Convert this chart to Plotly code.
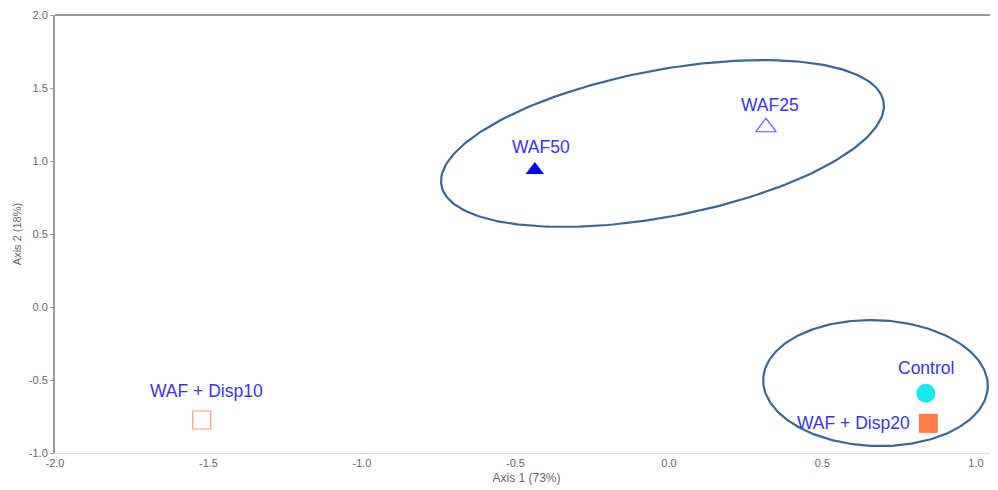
import numpy as np
import plotly.graph_objects as go

# ---- data ----
groups = ["WAF50", "WAF25", "Control", "WAF + Disp20", "WAF + Disp10"]
axis1 = [-0.437, 0.316, 0.837, 0.845, -1.522]
axis2 = [0.938, 1.231, -0.591, -0.797, -0.774]

x_tick_vals = [-2.0, -1.5, -1.0, -0.5, 0.0, 0.5, 1.0]
x_tick_text = ["-2.0", "-1.5", "-1.0", "-0.5", "0.0", "0.5", "1.0"]
y_tick_vals = [-1.0, -0.5, 0.0, 0.5, 1.0, 1.5, 2.0]
y_tick_text = ["-1.0", "-0.5", "0.0", "0.5", "1.0", "1.5", "2.0"]

# cluster ellipses: centre (axis units), semi-axes (major in axis-1 units,
# minor in axis-2 units), tilt on screen in degrees
ellipse_cx = [-0.021, 0.673]
ellipse_cy = [1.12, -0.521]
ellipse_a = [0.733, 0.366]
ellipse_b = [0.502, 0.431]
ellipse_tilt = [10.8, -2.0]

# ---- layout geometry (page body adds an 8px offset) ----
W, H = 990, 482
ML, MR, MT, MB = 47, 0, 7, 37
x_range = [-2.0, 1.072]
y_range = [-1.0, 2.0]
sx = (W - ML - MR) / (x_range[1] - x_range[0])
sy = (H - MT - MB) / (y_range[1] - y_range[0])

styles = {
    "WAF50": dict(symbol="triangle-up", size=16, color="#0000ff", line=dict(width=0)),
    "WAF25": dict(symbol="triangle-up-open", size=18, color="#5a5aff", line=dict(width=1.2)),
    "Control": dict(symbol="circle", size=19, color="#14eaee", line=dict(width=0)),
    "WAF + Disp20": dict(symbol="square", size=19, color="#ff7c4c", line=dict(width=0)),
    "WAF + Disp10": dict(symbol="square-open", size=18, color="#f79b78", line=dict(width=1.2)),
}
label_shift = {
    "WAF50": (6, 23, "center"),
    "WAF25": (4, 22, "center"),
    "Control": (0, 25, "center"),
    "WAF + Disp20": (-16, 0, "right"),
    "WAF + Disp10": (5, 29, "center"),
}

fig = go.Figure()

# ellipses
t = np.linspace(0, 2 * np.pi, 241)
for cx, cy, a, b, tilt in zip(ellipse_cx, ellipse_cy, ellipse_a, ellipse_b, ellipse_tilt):
    ap, bp = a * sx, b * sy
    th = np.deg2rad(tilt)
    u = ap * np.cos(t) * np.cos(th) - bp * np.sin(t) * np.sin(th)
    v = ap * np.cos(t) * np.sin(th) + bp * np.sin(t) * np.cos(th)
    fig.add_trace(go.Scatter(
        x=cx + u / sx, y=cy + v / sy, mode="lines",
        line=dict(color="#3d6792", width=2.2), hoverinfo="skip", showlegend=False))

annotations = []
for g, x, y in zip(groups, axis1, axis2):
    fig.add_trace(go.Scatter(x=[x], y=[y], mode="markers", marker=styles[g],
                             name=g, showlegend=False))
    dx, dy, anchor = label_shift[g]
    annotations.append(dict(
        x=x, y=y, xref="x", yref="y", text=g, showarrow=False,
        xshift=dx, yshift=dy, xanchor=anchor, yanchor="middle",
        font=dict(family="Liberation Sans, Arial", size=17.5, color="#3535ee")))

fig.update_layout(
    width=W, height=H,
    margin=dict(l=ML, r=MR, t=MT, b=MB, autoexpand=False),
    paper_bgcolor="white", plot_bgcolor="white",
    font=dict(family="Liberation Sans, Arial", color="#666666", size=11),
    annotations=annotations,
    shapes=[dict(type="line", xref="paper", yref="paper", x0=0, x1=1, y0=1, y1=1,
                 line=dict(color="#9a9a9a", width=2))],
    xaxis=dict(range=x_range, tickvals=x_tick_vals, ticktext=x_tick_text,
               showgrid=False, zeroline=False, showline=True, linecolor="#dddddd",
               linewidth=1, ticks="", tickfont=dict(size=11, color="#666666"),
               title=dict(text="Axis 1 (73%)", font=dict(size=12, color="#666666"),
                          standoff=5),
               automargin=False, fixedrange=True),
    yaxis=dict(range=y_range, tickvals=y_tick_vals, ticktext=y_tick_text,
               showgrid=False, zeroline=False, showline=True, linecolor="#9a9a9a",
               linewidth=2, ticks="outside", ticklen=3, tickcolor="#9a9a9a",
               tickfont=dict(size=11, color="#666666"),
               title=dict(text="Axis 2 (18%)", font=dict(size=11, color="#666666"),
                          standoff=5),
               automargin=False, fixedrange=True),
)

fig.write_html("out.html")
